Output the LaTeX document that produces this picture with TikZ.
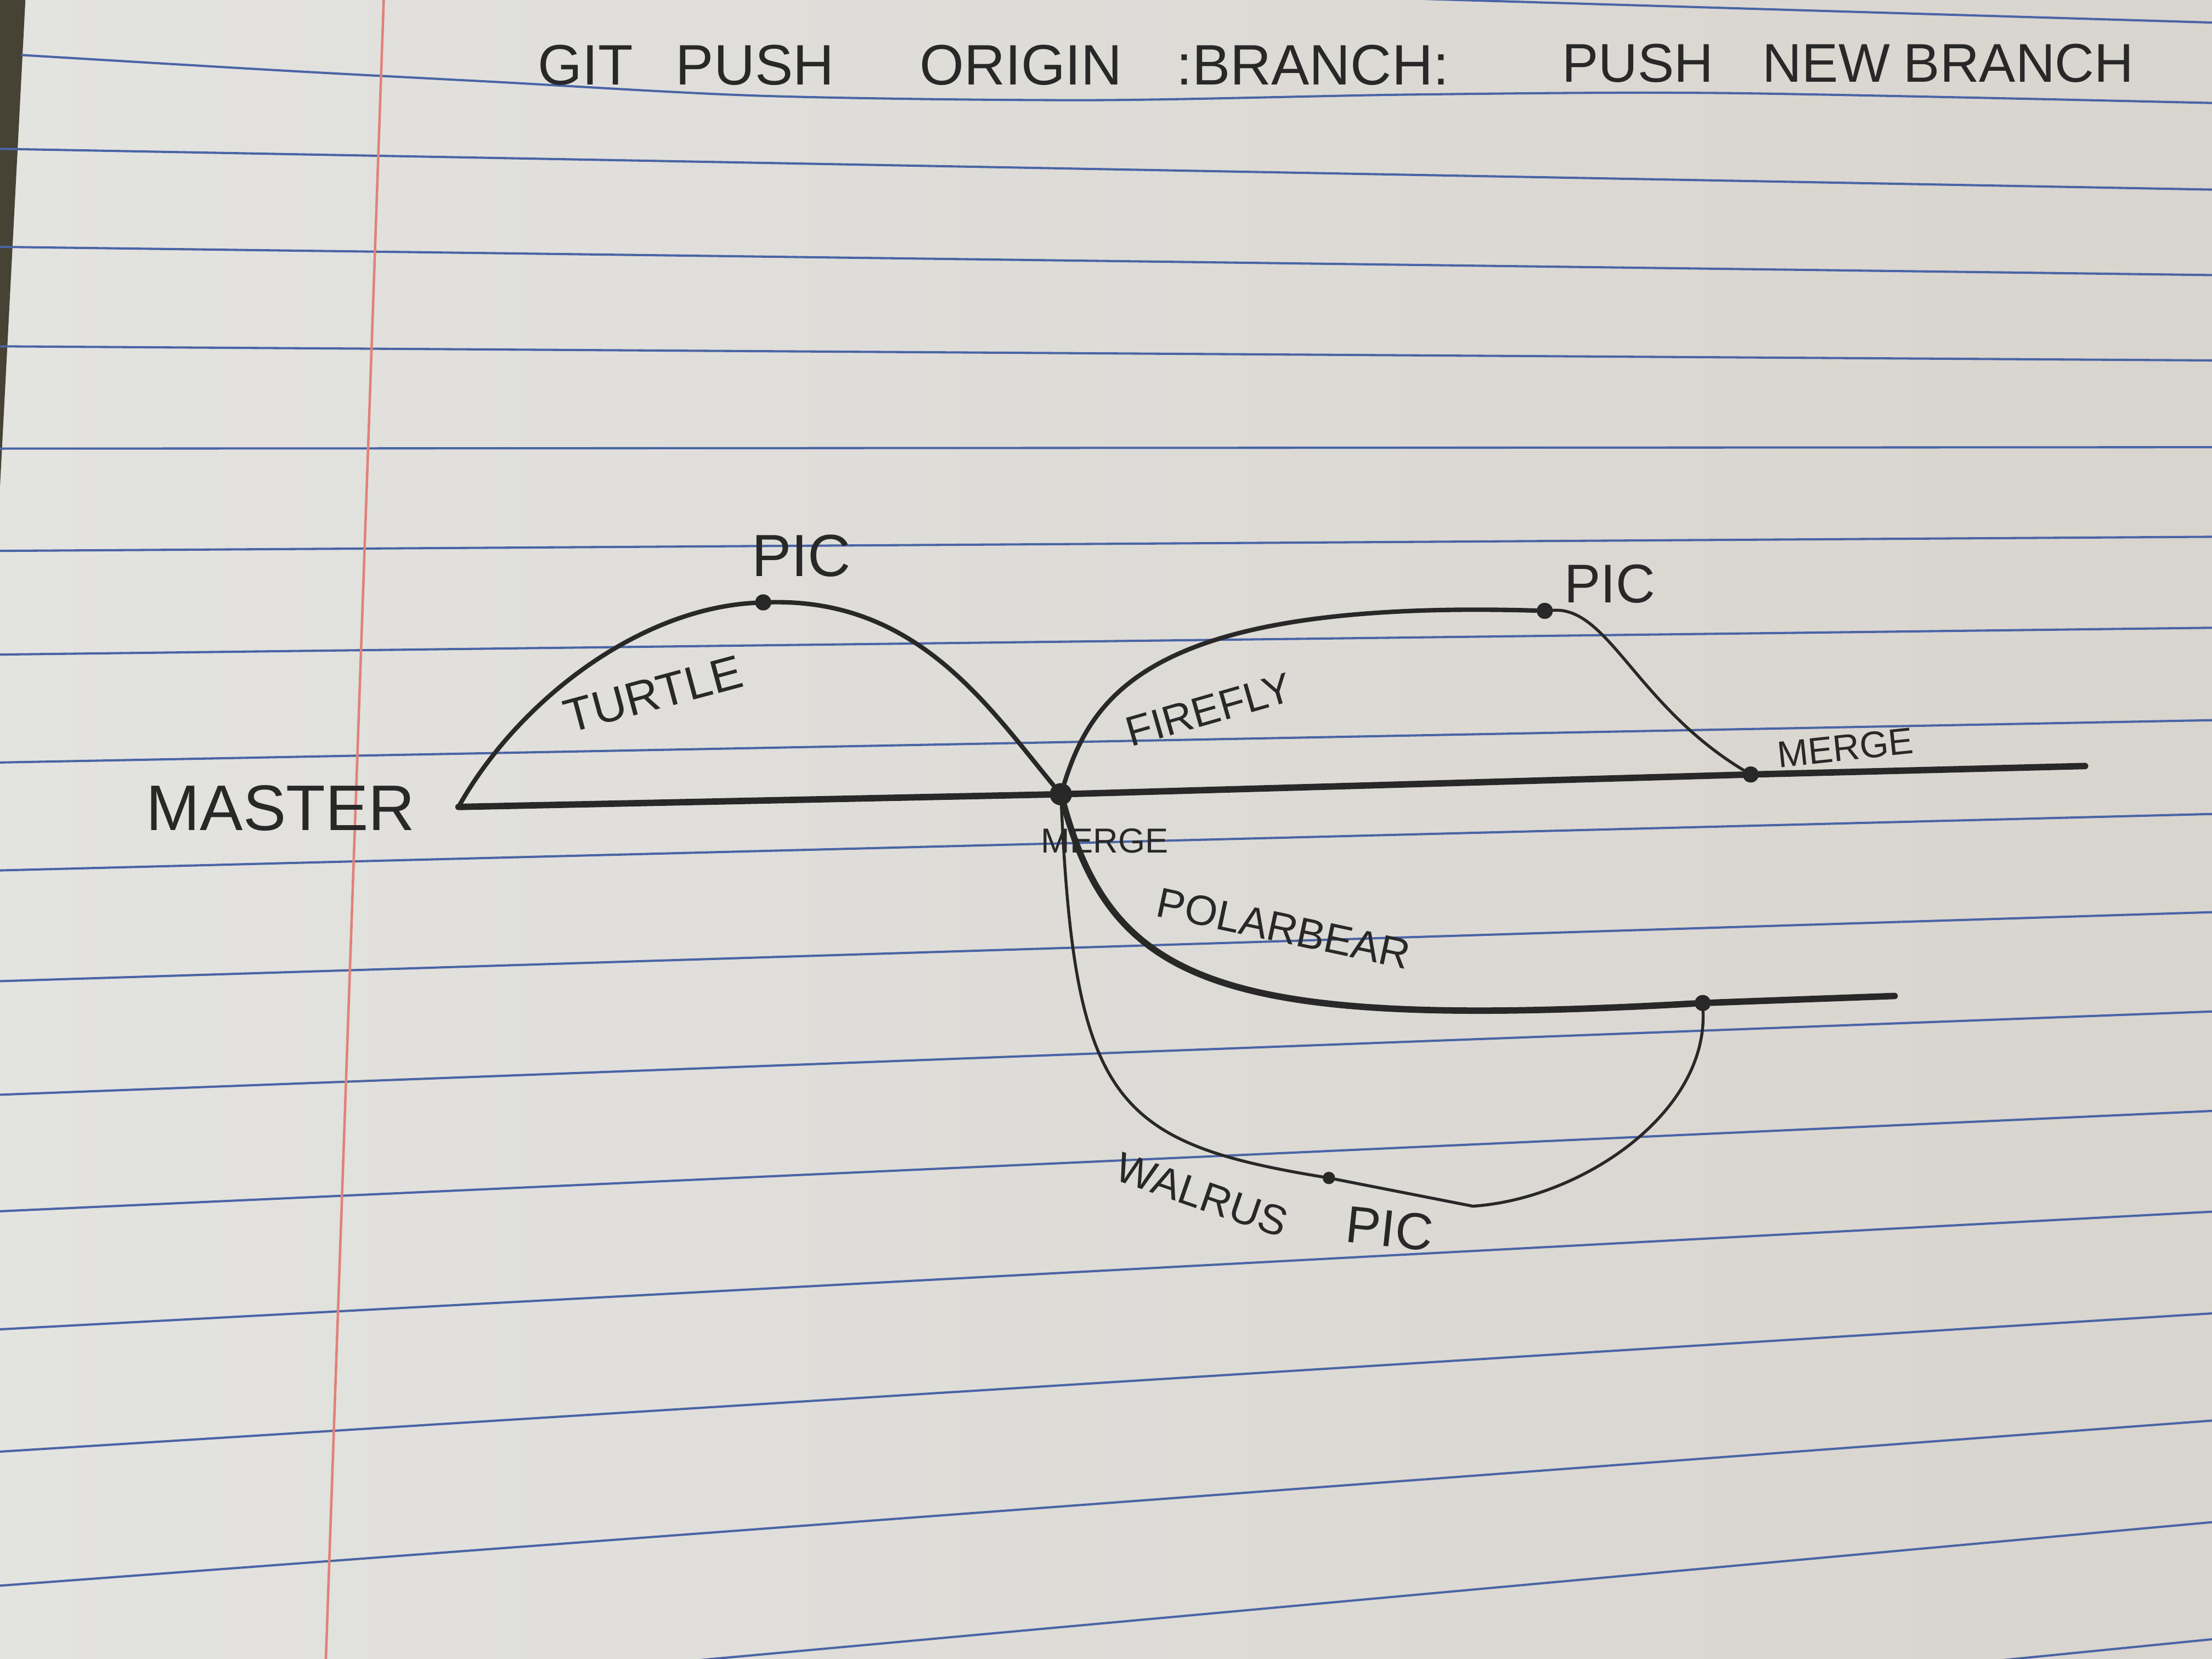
\documentclass[tikz,border=0pt]{standalone}
\usepackage{fontspec}
\newfontfamily\hand{Liberation Sans}
\definecolor{paperL}{RGB}{227,227,224}
\definecolor{paperR}{RGB}{216,212,206}
\definecolor{ruleblue}{RGB}{74,100,165}
\definecolor{marginred}{RGB}{224,130,120}
\definecolor{ink}{RGB}{40,40,40}
\definecolor{desk}{RGB}{70,66,52}
\tikzset{rule/.style={draw=ruleblue,line width=0.9pt},margin/.style={draw=marginred,line width=1pt},
trunk/.style={draw=ink,line width=2.6pt,line cap=round},branch/.style={draw=ink,line width=1.8pt,line cap=round},
twig/.style={draw=ink,line width=1.2pt,line cap=round},commit/.style={circle,fill=ink,inner sep=0pt,minimum size=6.5pt},
lbl/.style={text=ink,inner sep=0pt,font=\hand\fontsize{#1}{#1}\selectfont},lbl/.default=18}
\begin{document}
\begin{tikzpicture}[x=0.02cm,y=-0.02cm]
\useasboundingbox (0,0) rectangle (1568,1176);
% paper
\shade[left color=paperL,right color=paperR] (0,0) rectangle (1568,1176);
\fill[desk] (0,0) -- (18,0) -- (0,345) -- cycle;
\draw[rule] plot[smooth] coordinates {(15,39) (200,50) (350,58) (542,68) (773,71) (1003,67) (1225,66) (1568,73)};
\foreach \l/\r in {-31/16,105.5/134.4,175/195,245.5/255.5,318/317,390.5/380.5,464/445,540.5/510.5,617/577,695.5/646.6,776/717,858.6/787.5,942.3/858.9,1029/931,1124/1007,1222/1079,1318/1162}
  \draw[rule] (0,\l) -- (1568,\r);
\draw[margin] (272,0) -- (231,1176);
% commits
\coordinate (ms) at (325,572);
\coordinate (me) at (1478,543);
\coordinate (pe) at (1343,706);
\coordinate (wk) at (1044,855);
\node[commit,minimum size=9pt] (m1) at (752,563) {};
\node[commit] (m2) at (1241,549) {};
\node[commit] (tp) at (541,427) {};
\node[commit] (fp) at (1095,433) {};
\node[commit] (pp) at (1207,711) {};
\node[commit,minimum size=5pt] (wp) at (942,835) {};
% branches
\draw[trunk] (ms) -- (m1) -- (m2) -- (me);
\draw[branch] (ms) .. controls (365,500) and (450,432) .. (tp);
\draw[branch] (tp) .. controls (650,425) and (700,500) .. (m1);
\draw[branch] (m1) .. controls (775,490) and (820,425) .. (fp);
\draw[twig] (fp) .. controls (1140,430) and (1160,500) .. (m2);
\draw[trunk] (m1) .. controls (790,700) and (870,730) .. (pp) -- (pe);
\draw[twig] (m1) .. controls (762,780) and (790,810) .. (wp) -- (wk) .. controls (1120,850) and (1210,790) .. (pp);
% labels
\node[lbl=23,anchor=west] (title-cmd) at (381,46) {GIT\hspace{0.75em}PUSH\hspace{1.5em}ORIGIN\hspace{0.95em}:BRANCH:};
\node[lbl=22,anchor=west] (title-desc) at (1107,45) {PUSH\hspace{0.9em}NEW\hspace{0.25em}BRANCH};
\node[lbl=26] (lbl-master) at (199,573) {MASTER};
\node[lbl=19,rotate=15] (lbl-turtle) at (463,492) {TURTLE};
\node[lbl=24] (lbl-tpic) at (568,394) {PIC};
\node[lbl=17,rotate=16] (lbl-firefly) at (857,503) {FIREFLY};
\node[lbl=22] (lbl-fpic) at (1141,414) {PIC};
\node[lbl=15,rotate=6] (lbl-merge2) at (1308,530) {MERGE};
\node[lbl=14] (lbl-merge1) at (783,596) {MERGE};
\node[lbl=17,rotate=-12] (lbl-polar) at (910,658) {POLARBEAR};
\node[lbl=17,rotate=-19] (lbl-walrus) at (852,847) {WALRUS};
\node[lbl=21,rotate=-6] (lbl-wpic) at (985,871) {PIC};
\end{tikzpicture}
\end{document}
